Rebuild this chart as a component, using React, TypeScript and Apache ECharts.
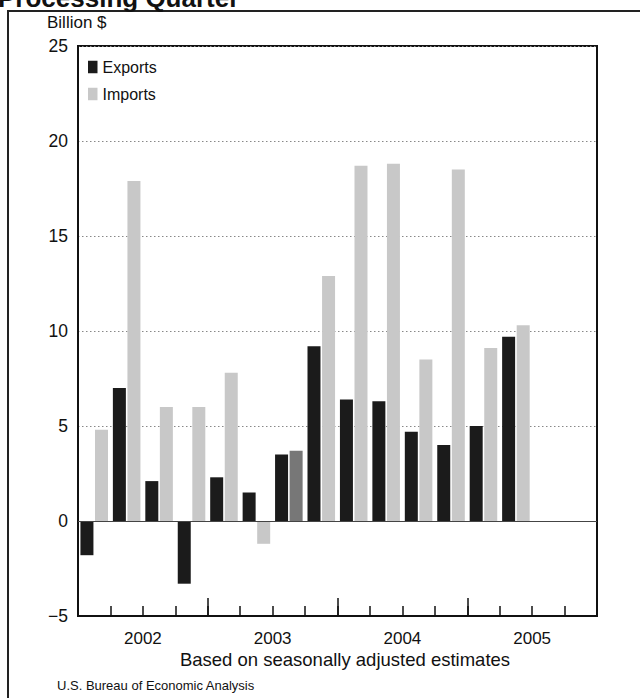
import React, { useEffect, useRef } from "react";
import * as echarts from "echarts";

const quarters = [
  "2002 Q1", "2002 Q2", "2002 Q3", "2002 Q4",
  "2003 Q1", "2003 Q2", "2003 Q3", "2003 Q4",
  "2004 Q1", "2004 Q2", "2004 Q3", "2004 Q4",
  "2005 Q1", "2005 Q2", "2005 Q3", "2005 Q4",
];
const years = ["2002", "2003", "2004", "2005"];
const exportsVals = [-1.8, 7.0, 2.1, -3.3, 2.3, 1.5, 3.5, 9.2, 6.4, 6.3, 4.7, 4.0, 5.0, 9.7, null, null];
const importsVals = [4.8, 17.9, 6.0, 6.0, 7.8, -1.2, 3.7, 12.9, 18.7, 18.8, 8.5, 18.5, 9.1, 10.3, null, null];
const highlightedImport = "2003 Q3";

const FONT = "Liberation Sans, Arial, sans-serif";

export default function App() {
  const ref = useRef<HTMLDivElement>(null);
  useEffect(() => {
    if (!ref.current) return;
    const chart = echarts.init(ref.current, undefined, { renderer: "svg" });
    chart.setOption({
      animation: false,
      backgroundColor: "#ffffff",
      textStyle: { fontFamily: FONT },
      title: [
        {
          text: "Billion $",
          left: 42,
          top: 9,
          textStyle: { fontSize: 17, fontWeight: "normal", color: "#111", fontFamily: FONT },
        },
        {
          text: "Based on seasonally adjusted estimates",
          left: 340,
          textAlign: "center",
          top: 645,
          textStyle: { fontSize: 18.5, fontWeight: "normal", color: "#111", fontFamily: FONT },
        },
        {
          text: "U.S. Bureau of Economic Analysis",
          left: 52,
          top: 674,
          textStyle: { fontSize: 13, fontWeight: "normal", color: "#111", fontFamily: FONT },
        },
      ],
      legend: {
        data: ["Exports", "Imports"],
        orient: "vertical",
        left: 83,
        top: 54,
        itemWidth: 9.5,
        itemHeight: 12.5,
        itemGap: 11,
        icon: "rect",
        textStyle: { fontSize: 16, color: "#111", fontFamily: FONT },
      },
      grid: {
        left: 78,
        top: 46,
        width: 519,
        height: 570,
        show: true,
        borderColor: "#111",
        borderWidth: 2,
        backgroundColor: "#fff",
      },
      xAxis: [
        {
          type: "category",
          data: quarters,
          boundaryGap: true,
          axisLine: { onZero: false, lineStyle: { color: "#111", width: 2 } },
          axisTick: { show: true, inside: true, length: 10, interval: 0, lineStyle: { color: "#111", width: 1.5 } },
          axisLabel: { show: false },
          splitLine: { show: false },
        },
        {
          type: "category",
          data: years,
          position: "bottom",
          boundaryGap: true,
          axisLine: { show: false, onZero: false },
          axisTick: { show: true, inside: true, length: 18, interval: 0, lineStyle: { color: "#111", width: 1.5 } },
          axisLabel: { fontSize: 17, color: "#111", margin: 14, fontFamily: FONT },
          splitLine: { show: false },
        },
      ],
      yAxis: {
        type: "value",
        min: -5,
        max: 25,
        interval: 5,
        axisLine: { show: true, lineStyle: { color: "#111", width: 2 } },
        axisTick: { show: false },
        axisLabel: {
          fontSize: 17.5,
          color: "#111",
          margin: 10,
          fontFamily: FONT,
          formatter: (v: number) => (v < 0 ? "\u2212" + Math.abs(v) : String(v)),
        },
        splitLine: { show: true, lineStyle: { color: "#888", type: [1.5, 2.5], width: 1 } },
      },
      series: [
        {
          name: "Exports",
          type: "bar",
          data: exportsVals,
          barWidth: 13,
          barGap: "12%",
          itemStyle: { color: "#1b1b1b" },
          markLine: {
            silent: true,
            symbol: "none",
            label: { show: false },
            lineStyle: { color: "#444", width: 1, type: "solid" },
            data: [{ yAxis: 0 }],
          },
        },
        {
          name: "Imports",
          type: "bar",
          barWidth: 13,
          data: importsVals.map((v, i) =>
            quarters[i] === highlightedImport ? { value: v, itemStyle: { color: "#777777" } } : v
          ),
          itemStyle: { color: "#c8c8c8" },
        },
      ],
      graphic: [
        {
          type: "rect",
          shape: { x: 8, y: 11, width: 700, height: 720 },
          style: { fill: "none", stroke: "#222", lineWidth: 2 },
          silent: true,
        },
        {
          type: "text",
          left: -2,
          top: -15,
          style: { text: "Processing Quarter", font: "bold 26px " + FONT, fill: "#111" },
          silent: true,
        },
      ],
    });
    return () => chart.dispose();
  }, []);
  return (
    <div
      ref={ref}
      style={{ position: "fixed", left: 0, top: 0, width: 640, height: 698, background: "#fff" }}
    />
  );
}
